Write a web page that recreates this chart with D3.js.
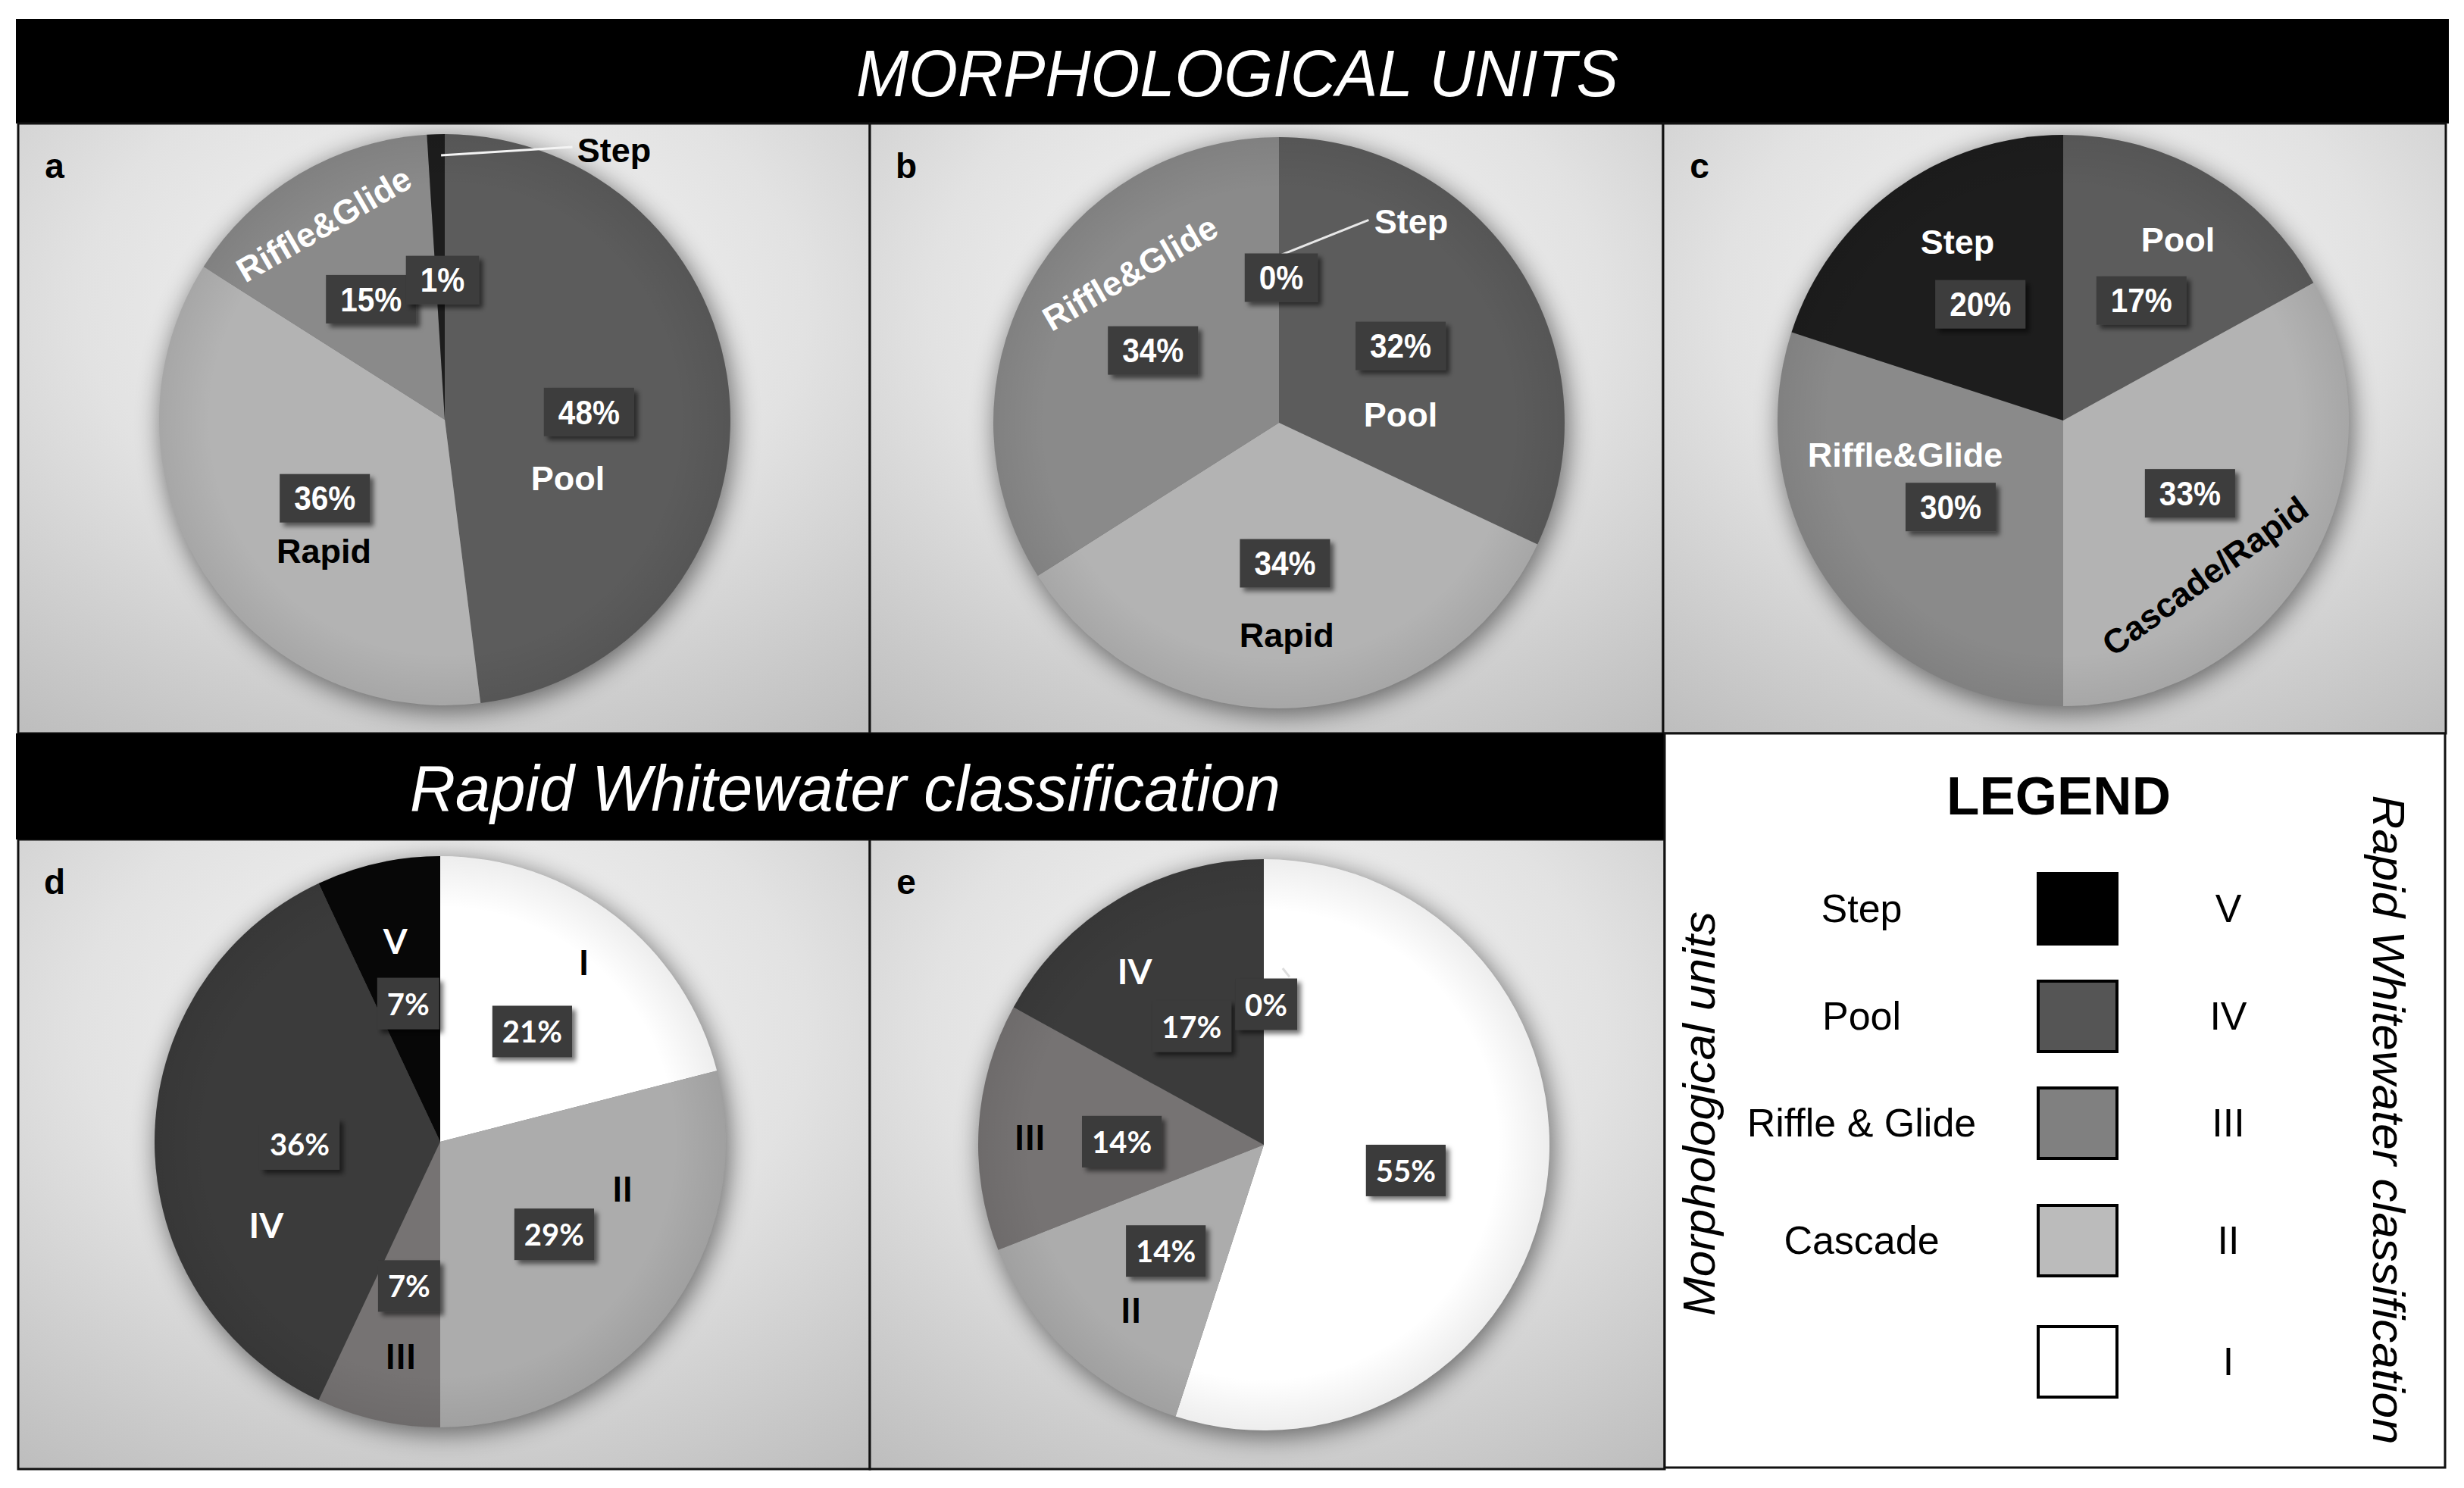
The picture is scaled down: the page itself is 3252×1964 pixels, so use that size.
<!DOCTYPE html>
<html>
<head>
<meta charset="utf-8">
<script src="https://cdn.jsdelivr.net/npm/d3@7"></script>
<style>
  body { margin: 0; background: #fff; }
  text { font-family: 'Liberation Sans', Arial, sans-serif; }
</style>
</head>
<body>
<script>
// ---- data (percent of each unit / class) ----
const catsA = ['Pool', 'Rapid', 'Riffle&Glide', 'Step'];
const valsA = [48, 36, 15, 1];
const catsB = ['Pool', 'Rapid', 'Riffle&Glide', 'Step'];
const valsB = [32, 34, 34, 0];
const catsC = ['Pool', 'Cascade/Rapid', 'Riffle&Glide', 'Step'];
const valsC = [17, 33, 30, 20];
const classes = ['I', 'II', 'III', 'IV', 'V'];
const valsD = [21, 29, 7, 36, 7];
const valsE = [55, 14, 14, 17, 0];

const legendUnits = ['Step', 'Pool', 'Riffle & Glide', 'Cascade', ''];
const legendClasses = ['V', 'IV', 'III', 'II', 'I'];

// SVG size
const W = 3252;
const H = 1964;
const R = 377;

// grey scales
const morphColor = d3.scaleOrdinal()
  .domain(['Step', 'Pool', 'Riffle&Glide', 'Rapid', 'Cascade/Rapid'])
  .range(['#1d1d1d', '#5c5c5c', '#8a8a8a', '#b3b3b3', '#b3b3b3']);
const classColor = d3.scaleOrdinal()
  .domain(['V', 'IV', 'III', 'II', 'I'])
  .range(['#070707', '#3b3b3b', '#767373', '#acacac', '#ffffff']);
const legendFill = d3.scaleOrdinal()
  .domain(legendClasses)
  .range(['#000', '#555', '#808080', '#bbb', '#fff']);

// legend rows are not evenly spaced in the figure
const legendRowY = [1199, 1341, 1482, 1637, 1797];

// panel layout; label offsets are in units of the pie radius
const panels = [
  {
    id: 'a', x0: 24, y0: 163, x1: 1148, y1: 968, cx: 587, cy: 554,
    cats: catsA, vals: valsA, color: morphColor, font: 'narrow',
    vPos: [[0.505, -0.027], [-0.420, 0.275], [-0.258, -0.422], [-0.008, -0.489]],
    nPos: [[0.431, 0.205, '#fff', 0], [-0.423, 0.460, '#000', 0],
      [-0.423, -0.684, '#fff', -30], [0.593, -0.944, '#000', 0]],
    leader: [[-0.013, -0.926], [0.447, -0.955], '#f4f4f4'],
  },
  {
    id: 'b', x0: 1148, y0: 163, x1: 2195, y1: 968, cx: 1688, cy: 558,
    cats: catsB, vals: valsB, color: morphColor, font: 'narrow',
    vPos: [[0.426, -0.269], [0.021, 0.492], [-0.441, -0.253], [0.008, -0.508]],
    nPos: [[0.426, -0.029, '#fff', 0], [0.027, 0.745, '#000', 0],
      [-0.521, -0.524, '#fff', -30], [0.463, -0.705, '#fff', 0]],
    leader: [[0.008, -0.588], [0.314, -0.710], '#e8e8e8'],
  },
  {
    id: 'c', x0: 2195, y0: 163, x1: 3228, y1: 968, cx: 2723, cy: 555,
    cats: catsC, vals: valsC, color: morphColor, font: 'narrow',
    vPos: [[0.274, -0.420], [0.444, 0.255], [-0.394, 0.303], [-0.290, -0.407]],
    nPos: [[0.402, -0.633, '#fff', 0], [0.497, 0.545, '#000', -36],
      [-0.553, 0.120, '#fff', 0], [-0.370, -0.625, '#fff', 0]],
  },
  {
    id: 'd', x0: 24, y0: 1108, x1: 1148, y1: 1939, cx: 581, cy: 1507,
    cats: classes, vals: valsD, color: classColor, font: 'round',
    vPos: [[0.322, -0.386], [0.399, 0.324], [-0.109, 0.505], [-0.492, 0.008], [-0.112, -0.484]],
    nPos: [[0.503, -0.630, '#000', 0], [0.638, 0.162, '#000', 0],
      [-0.138, 0.750, '#000', 0], [-0.609, 0.290, '#fff', 0], [-0.157, -0.705, '#fff', 0]],
  },
  {
    id: 'e', x0: 1148, y0: 1108, x1: 2197, y1: 1939, cx: 1668, cy: 1511,
    cats: classes, vals: valsE, color: classColor, font: 'round',
    vPos: [[0.497, 0.090], [-0.343, 0.372], [-0.497, -0.011], [-0.253, -0.415], [0.008, -0.492]],
    nPos: [null, [-0.465, 0.577, '#000', 0], [-0.819, -0.029, '#000', 0],
      [-0.452, -0.609, '#fff', 0], null],
    leader: [[0.090, -0.588], [0.066, -0.618], '#ddd'],
  },
];

const svg = d3.select('body')
  .append('svg')
  .attr('width', W)
  .attr('height', H);

svg.append('rect')
  .attr('width', W)
  .attr('height', H)
  .attr('fill', '#fff');

const defs = svg.append('defs');

const bg = defs.append('radialGradient')
  .attr('id', 'panelBg')
  .attr('cx', 0.5).attr('cy', 0.3).attr('r', 0.85);
bg.append('stop').attr('offset', 0).attr('stop-color', '#f6f6f6');
bg.append('stop').attr('offset', 0.5).attr('stop-color', '#e2e2e2');
bg.append('stop').attr('offset', 1).attr('stop-color', '#bebebe');

const edge = defs.append('radialGradient').attr('id', 'pieEdge');
edge.append('stop').attr('offset', 0.82).attr('stop-color', '#000').attr('stop-opacity', 0);
edge.append('stop').attr('offset', 1).attr('stop-color', '#000').attr('stop-opacity', 0.07);

defs.append('filter')
  .attr('id', 'pieShadow')
  .attr('x', '-30%').attr('y', '-30%').attr('width', '160%').attr('height', '160%')
  .append('feGaussianBlur')
  .attr('stdDeviation', 16);

defs.append('filter')
  .attr('id', 'boxShadow')
  .attr('x', '-30%').attr('y', '-30%').attr('width', '160%').attr('height', '160%')
  .append('feDropShadow')
  .attr('dx', 5).attr('dy', 5).attr('stdDeviation', 3)
  .attr('flood-color', '#000').attr('flood-opacity', 0.55);

// Title banners
svg.append('rect')
  .attr('x', 21).attr('y', 25)
  .attr('width', 3232 - 21).attr('height', 163 - 25)
  .attr('fill', '#000');

svg.append('text')
  .attr('x', 1130).attr('y', 127)
  .attr('fill', '#fff')
  .style('font-style', 'italic')
  .style('font-size', '88px')
  .attr('textLength', 1006)
  .attr('lengthAdjust', 'spacingAndGlyphs')
  .text('MORPHOLOGICAL UNITS');

const pie = d3.pie().sort(null).value(d => d);
const arc = d3.arc().innerRadius(0).outerRadius(R);

panels.forEach((p) => {
  const g = svg.append('g').attr('class', 'panel');

  g.append('rect')
    .attr('x', p.x0).attr('y', p.y0)
    .attr('width', p.x1 - p.x0).attr('height', p.y1 - p.y0)
    .attr('fill', 'url(#panelBg)')
    .attr('stroke', '#111')
    .attr('stroke-width', 3);

  g.append('text')
    .attr('x', p.x0 + 48).attr('y', p.y0 + 72)
    .attr('text-anchor', 'middle')
    .style('font-weight', 'bold')
    .style('font-size', '46px')
    .text(p.id);

  const pg = g.append('g')
    .attr('transform', `translate(${p.cx}, ${p.cy})`);

  // soft shadow under the pie
  pg.append('circle')
    .attr('cx', 4).attr('cy', 7)
    .attr('r', R + 2)
    .attr('fill', '#000')
    .attr('opacity', 0.5)
    .attr('filter', 'url(#pieShadow)');

  const arcs = pie(p.vals);

  pg.selectAll('path.slice')
    .data(arcs)
    .join('path')
    .attr('class', 'slice')
    .attr('d', arc)
    .attr('fill', d => p.color(p.cats[d.index]));

  pg.append('circle')
    .attr('r', R)
    .attr('fill', 'url(#pieEdge)');

  if (p.leader) {
    pg.append('line')
      .attr('x1', p.leader[0][0] * R).attr('y1', p.leader[0][1] * R)
      .attr('x2', p.leader[1][0] * R).attr('y2', p.leader[1][1] * R)
      .attr('stroke', p.leader[2])
      .attr('stroke-width', 3);
  }

  const narrow = p.font === 'narrow';
  const family = narrow ? "'Liberation Sans', Arial, sans-serif" : 'Lato, \'Open Sans\', sans-serif';

  // category names
  const names = pg.selectAll('g.name')
    .data(arcs.filter(d => p.nPos[d.index]))
    .join('g')
    .attr('class', 'name')
    .attr('transform', (d) => {
      const n = p.nPos[d.index];
      return `translate(${n[0] * R}, ${n[1] * R}) rotate(${n[3]})`;
    });

  names.append('text')
    .attr('text-anchor', 'middle')
    .attr('dominant-baseline', 'central')
    .attr('fill', d => p.nPos[d.index][2])
    .style('font-family', family)
    .style('font-weight', 'bold')
    .style('font-size', narrow ? '45px' : '46px')
    .text(d => p.cats[d.index]);

  // percentage boxes
  const sx = narrow ? 0.9 : 1;
  const boxes = pg.selectAll('g.value')
    .data(arcs)
    .join('g')
    .attr('class', 'value')
    .attr('transform', (d) => {
      const v = p.vPos[d.index];
      return `translate(${v[0] * R}, ${v[1] * R})`;
    });

  const rects = boxes.append('rect')
    .attr('fill', narrow ? '#3e3e3e' : '#3a3a3a')
    .attr('filter', 'url(#boxShadow)');

  const labels = boxes.append('text')
    .attr('text-anchor', 'middle')
    .attr('dominant-baseline', 'central')
    .attr('transform', `scale(${sx}, 1)`)
    .attr('fill', '#fff')
    .style('font-family', family)
    .style('font-weight', 'bold')
    .style('font-size', narrow ? '45px' : '40px')
    .text(d => `${d.data}%`);

  labels.each(function (d, i) {
    const w = this.getComputedTextLength() * sx + (narrow ? 38 : 26);
    const h = narrow ? 64 : 68;
    d3.select(rects.nodes()[i])
      .attr('x', -w / 2).attr('y', -h / 2)
      .attr('width', w).attr('height', h);
  });
});

// Second banner
svg.append('rect')
  .attr('x', 21).attr('y', 968)
  .attr('width', 2197 - 21).attr('height', 1108 - 968)
  .attr('fill', '#000');

svg.append('text')
  .attr('x', 541).attr('y', 1070)
  .attr('fill', '#fff')
  .style('font-style', 'italic')
  .style('font-size', '86px')
  .attr('textLength', 1149)
  .attr('lengthAdjust', 'spacingAndGlyphs')
  .text('Rapid Whitewater classification');

// Legend
const leg = svg.append('g').attr('id', 'legend');

leg.append('rect')
  .attr('x', 2197).attr('y', 968)
  .attr('width', 3227 - 2197).attr('height', 1937 - 968)
  .attr('fill', '#fff')
  .attr('stroke', '#111')
  .attr('stroke-width', 3);

leg.append('text')
  .attr('x', 2717).attr('y', 1075)
  .attr('text-anchor', 'middle')
  .style('font-weight', 'bold')
  .style('font-size', '71px')
  .text('LEGEND');

const rows = leg.selectAll('g.row')
  .data(legendClasses)
  .join('g')
  .attr('class', 'row')
  .attr('transform', (d, i) => `translate(0, ${legendRowY[i]})`);

rows.append('rect')
  .attr('x', 2690).attr('y', -46)
  .attr('width', 104).attr('height', 93)
  .attr('fill', d => legendFill(d))
  .attr('stroke', '#000')
  .attr('stroke-width', 4);

rows.append('text')
  .attr('x', 2457)
  .attr('text-anchor', 'middle')
  .attr('dominant-baseline', 'central')
  .style('font-size', '52px')
  .text((d, i) => legendUnits[i]);

rows.append('text')
  .attr('x', 2941)
  .attr('text-anchor', 'middle')
  .attr('dominant-baseline', 'central')
  .style('font-size', '52px')
  .text(d => d);

leg.append('text')
  .attr('transform', 'translate(2263, 1470) rotate(-90)')
  .attr('text-anchor', 'middle')
  .style('font-style', 'italic')
  .style('font-size', '60px')
  .attr('textLength', 534)
  .attr('lengthAdjust', 'spacingAndGlyphs')
  .text('Morphological units');

leg.append('text')
  .attr('transform', 'translate(3132, 1478) rotate(90)')
  .attr('text-anchor', 'middle')
  .style('font-style', 'italic')
  .style('font-size', '60px')
  .attr('textLength', 857)
  .attr('lengthAdjust', 'spacingAndGlyphs')
  .text('Rapid Whitewater classification');
</script>
</body>
</html>
